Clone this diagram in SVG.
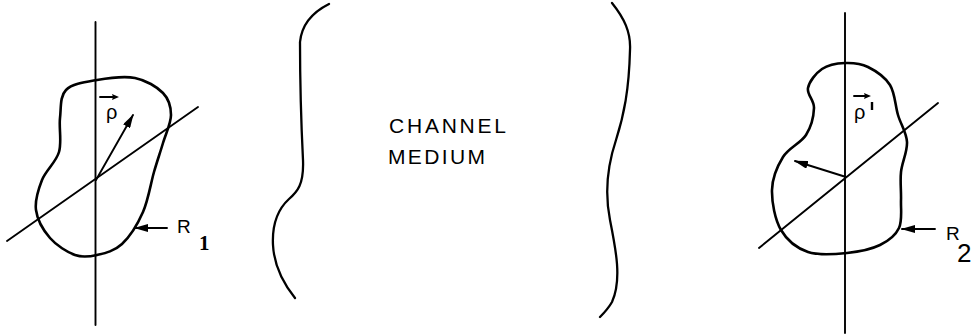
<svg xmlns="http://www.w3.org/2000/svg" width="973" height="335" viewBox="0 0 973 335">
<defs>
<style>
.ln{fill:none;stroke:#000;stroke-width:1.9;stroke-linecap:round;stroke-linejoin:round}
.blob{fill:none;stroke:#000;stroke-width:2.6;stroke-linejoin:round}
.brace{fill:none;stroke:#000;stroke-width:2.3;stroke-linecap:round}
.t{font-family:"Liberation Sans",Arial,sans-serif;fill:#000}
.s{font-family:"Liberation Serif","Times New Roman",serif;font-weight:bold;fill:#000}
</style>
<marker id="ah" viewBox="0 0 14 8" refX="13" refY="4" markerWidth="14" markerHeight="8" markerUnits="userSpaceOnUse" orient="auto">
<path d="M0,0 L14,4 L0,8 Z" fill="#000"/>
</marker>
</defs>
<rect width="973" height="335" fill="#fff"/>
<g id="region1">
<path class="blob" d="M 97,80 C 108.5,78 124,75.8 135,78 C 146,80.2 157,86.8 163,93 C 169,99.2 171,106.7 171,115 C 171,123.3 165.8,133.5 163,143 C 160.2,152.5 157.3,160.5 154,172 C 150.7,183.5 148.3,200 143,212 C 137.7,224 129.7,236.8 122,244 C 114.3,251.2 104.8,253.2 97,255 C 89.2,256.8 82.8,257.8 75,255 C 67.2,252.2 56.5,245.5 50,238 C 43.5,230.5 37.3,219.7 36,210 C 34.7,200.3 38.2,189.7 42,180 C 45.8,170.3 56,162.3 59,152 C 62,141.7 58.8,128.3 60,118 C 61.2,107.7 59.8,96.3 66,90 C 72.2,83.7 85.5,82 97,80 Z"/>
<line class="ln" x1="95.5" y1="22" x2="95.5" y2="325"/>
<line class="ln" x1="7" y1="241" x2="198" y2="107"/>
<text class="t" x="106" y="119" font-size="20">ρ</text>
<line class="ln" x1="100" y1="97" x2="114" y2="97" stroke-width="1.4"/>
<path d="M119,97 L112,94 L113,97 L112,100 Z" fill="#000"/>
<text class="t" x="177" y="233" font-size="19">R</text>
<text class="s" x="199" y="250" font-size="21">1</text>
</g>
<g id="region2">
<path class="blob" d="M 845,63 C 837.3,63.3 828.2,64.8 822,69 C 815.8,73.2 809.3,81.5 808,88 C 806.7,94.5 814.3,100.2 814,108 C 813.7,115.8 811.2,126.8 806,135 C 800.8,143.2 788.7,147.8 783,157 C 777.3,166.2 772.3,177.8 772,190 C 771.7,202.2 775,219.7 781,230 C 787,240.3 797,248.2 808,252 C 819,255.8 835,254.2 847,253 C 859,251.8 871.3,249.2 880,245 C 888.7,240.8 895.5,235.5 899,228 C 902.5,220.5 900.7,209.3 901,200 C 901.3,190.7 900,181.7 901,172 C 902,162.3 907.5,151.5 907,142 C 906.5,132.5 900.8,124.5 898,115 C 895.2,105.5 895,93 890,85 C 885,77 875.5,70.7 868,67 C 860.5,63.3 852.7,62.7 845,63 Z"/>
<line class="ln" x1="845" y1="13" x2="845" y2="333"/>
<line class="ln" x1="759" y1="248" x2="938" y2="103"/>
<text class="t" x="854" y="119" font-size="20">ρ</text>
<line x1="872" y1="102" x2="872" y2="110" stroke="#000" stroke-width="2.4"/>
<line class="ln" x1="854" y1="96" x2="866" y2="96" stroke-width="1.4"/>
<path d="M871,96 L864,93 L865,96 L864,99 Z" fill="#000"/>
<text class="t" x="946" y="240" font-size="19">R</text>
<text class="t" x="957" y="262" font-size="26">2</text>
</g>
<g id="channel">
<path class="brace" d="M 329,4 C 315,11 302,22 300,42 C 300,80 302,140 303,160 C 304,185 297,192 289,199 C 277,210 272,225 273,245 C 274,265 283,283 295,298"/>
<path class="brace" d="M 612,3 C 624,18 631,32 630,50 C 629,90 624,115 616,140 C 606,170 605,195 610,220 C 616,250 622,280 612,302 C 608,309 604,313 600,317"/>
<text class="t" x="389" y="133" font-size="21" textLength="117" lengthAdjust="spacing">CHANNEL</text>
<text class="t" x="388" y="164" font-size="21" textLength="97" lengthAdjust="spacing">MEDIUM</text>
</g>
<g id="connectors">
<line class="ln" x1="96" y1="180" x2="133" y2="115" marker-end="url(#ah)"/>
<line class="ln" x1="846" y1="177" x2="795" y2="161" marker-end="url(#ah)"/>
<line class="ln" x1="167" y1="228" x2="135" y2="228" marker-end="url(#ah)"/>
<line class="ln" x1="935" y1="229" x2="902" y2="229" marker-end="url(#ah)"/>
</g>
</svg>
